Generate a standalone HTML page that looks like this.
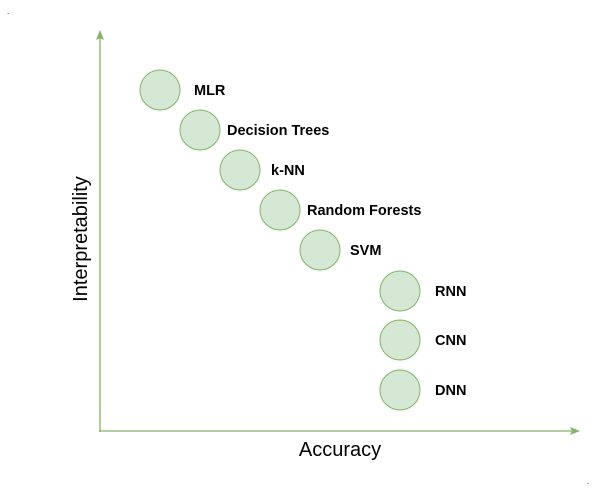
<!DOCTYPE html>
<html><head><meta charset="utf-8"><style>
html,body{margin:0;padding:0;background:#fff;}
svg{display:block;font-family:"Liberation Sans",Arial,sans-serif;}
</style></head><body>
<svg id="chart" width="611" height="491" viewBox="0 0 611 491">
<text x="7" y="14" font-size="8" fill="#000">.</text>
<text x="587" y="484" font-size="8" fill="#000">.</text>
<g>
<line x1="100" y1="432" x2="100" y2="38" stroke="#82b366" stroke-width="1.3"/>
<polygon points="100,30 96,40 100,38 104,40" fill="#82b366"/>
</g>
<g>
<line x1="99" y1="431" x2="572" y2="431" stroke="#82b366" stroke-width="1.3"/>
<polygon points="580,431 570,427 572,431 570,435" fill="#82b366"/>
</g>
<text x="340" y="456" font-size="20" text-anchor="middle" fill="#000">Accuracy</text>
<text x="0" y="0" font-size="20" text-anchor="middle" fill="#000" transform="translate(87,239) rotate(-90)">Interpretability</text>
<g id="marks"></g>
</svg>
<script>
const models = ["MLR","Decision Trees","k-NN","Random Forests","SVM","RNN","CNN","DNN"];
const accuracy = [3,5,7,9,11,15,15,15];
const interpretability = [34.1,30.1,26.1,22.1,18.1,14.0,9.1,4.1];
const xs = v => 100 + v*20;
const ys = v => 431 - v*10;
const labelDx = [34,27,31,27,30,35,35,35];
const g = document.getElementById('marks');
const NS = "http://www.w3.org/2000/svg";
models.forEach((m,i)=>{
  const cx = xs(accuracy[i]), cy = ys(interpretability[i]);
  const c = document.createElementNS(NS,'circle');
  
  
  c.setAttribute('cx',cx); c.setAttribute('cy',cy); c.setAttribute('r',20);
  c.setAttribute('fill','#d5e8d4'); c.setAttribute('stroke','#82b366'); c.setAttribute('stroke-width','1');
  g.appendChild(c);
  const t = document.createElementNS(NS,'text');
  
  
  t.setAttribute('x',cx+labelDx[i]); t.setAttribute('y',cy+5);
  t.setAttribute('font-size','14.5'); t.setAttribute('font-weight','bold');
  t.textContent = m;
  g.appendChild(t);
});
</script>
</body></html>
